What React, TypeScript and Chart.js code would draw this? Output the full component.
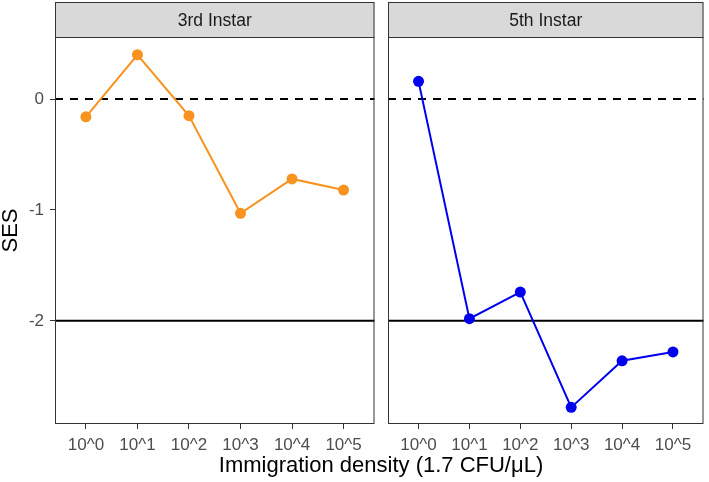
import React, { useEffect, useRef } from "react";
import { Chart, registerables } from "chart.js";
Chart.register(...registerables);

const xLabels = ["10^0", "10^1", "10^2", "10^3", "10^4", "10^5"];
const panelTitles = ["3rd Instar", "5th Instar"];
const ses3rd = [-0.16, 0.4, -0.15, -1.03, -0.72, -0.82];
const ses5th = [0.16, -1.98, -1.74, -2.78, -2.36, -2.28];
const yTicks = [-2, -1, 0];
const dashedRef = 0;
const solidRef = -2;
const yRange = [-2.93, 0.56];
const xRange = [-0.6, 5.6];
const colors = ["#F7931E", "#0000EE"];

const FONT = "'Liberation Sans', Arial, Helvetica, sans-serif";

const facetPlugin = {
  id: "facet",
  beforeDatasetsDraw(chart: any) {
    const { ctx, chartArea } = chart;
    const y = chart.scales.y;
    ctx.save();
    ctx.strokeStyle = "#000";
    ctx.lineWidth = 2;
    const yd = y.getPixelForValue(dashedRef);
    ctx.setLineDash([8, 7]);
    ctx.beginPath();
    ctx.moveTo(chartArea.left, yd);
    ctx.lineTo(chartArea.right, yd);
    ctx.stroke();
    ctx.setLineDash([]);
    const ys = y.getPixelForValue(solidRef);
    ctx.beginPath();
    ctx.moveTo(chartArea.left, ys);
    ctx.lineTo(chartArea.right, ys);
    ctx.stroke();
    ctx.restore();
  },
  afterDraw(chart: any, _a: any, opts: any) {
    const { ctx, chartArea } = chart;
    const { left, right, top, bottom } = chartArea;
    ctx.save();
    ctx.fillStyle = "#d9d9d9";
    ctx.fillRect(left, 2, right - left, top - 2);
    ctx.strokeStyle = "#333333";
    ctx.lineWidth = 1;
    ctx.strokeRect(left + 0.5, 2.5, right - left - 1, top - 2);
    ctx.fillStyle = "#1a1a1a";
    ctx.font = `17.5px ${FONT}`;
    ctx.textAlign = "center";
    ctx.textBaseline = "middle";
    ctx.fillText(opts.title, (left + right) / 2, (2 + top) / 2 + 1.5);
    ctx.strokeRect(left + 0.5, top + 0.5, right - left - 1, bottom - top - 1);
    ctx.restore();
  },
};

function Panel(props: {
  values: number[];
  color: string;
  title: string;
  showY: boolean;
  left: number;
  width: number;
  padLeft: number;
  padRight: number;
}) {
  const ref = useRef<HTMLCanvasElement>(null);
  useEffect(() => {
    const chart = new Chart(ref.current!, {
      type: "line",
      data: {
        datasets: [
          {
            data: props.values.map((v, i) => ({ x: i, y: v })),
            borderColor: props.color,
            backgroundColor: props.color,
            borderWidth: 2,
            pointRadius: 5.5,
            pointBorderWidth: 0,
            pointBackgroundColor: props.color,
            tension: 0,
          },
        ],
      },
      options: {
        animation: false,
        responsive: false,
        devicePixelRatio: 1,
        layout: { padding: { top: 37, left: props.padLeft, right: props.padRight, bottom: 0 } },
        plugins: {
          legend: { display: false },
          tooltip: { enabled: false },
          facet: { title: props.title },
        } as any,
        scales: {
          x: {
            type: "linear",
            min: xRange[0],
            max: xRange[1],
            afterBuildTicks: (s: any) => {
              s.ticks = xLabels.map((_, i) => ({ value: i }));
            },
            afterFit: (s: any) => {
              s.height = 58;
            },
            ticks: {
              autoSkip: false,
              maxRotation: 0,
              padding: 6,
              color: "#4d4d4d",
              font: { family: FONT, size: 17 },
              callback: (v: any) => xLabels[v as number] ?? "",
            },
            grid: { display: true, drawOnChartArea: false, drawTicks: true, tickLength: 5, color: "#333333", lineWidth: 1 },
            border: { display: false },
          },
          y: {
            type: "linear",
            display: props.showY,
            min: yRange[0],
            max: yRange[1],
            afterBuildTicks: (s: any) => {
              s.ticks = yTicks.map((v) => ({ value: v }));
            },
            afterFit: (s: any) => {
              s.width = props.showY ? 55 : 0;
            },
            ticks: {
              padding: 6,
              color: "#4d4d4d",
              font: { family: FONT, size: 17 },
              callback: (v: any) => String(v),
            },
            grid: { display: true, drawOnChartArea: false, drawTicks: true, tickLength: 5, color: "#333333", lineWidth: 1 },
            border: { display: false },
            title: {
              display: true,
              text: "SES",
              color: "#000",
              font: { family: FONT, size: 22, lineHeight: 1 },
              padding: 0,
            },
          },
        },
      },
      plugins: [facetPlugin],
    } as any);
    return () => chart.destroy();
  }, []);
  return (
    <canvas
      ref={ref}
      width={props.width}
      height={482}
      style={{ position: "absolute", left: props.left, top: 0, width: props.width, height: 482 }}
    />
  );
}

export default function App() {
  return (
    <div style={{ position: "absolute", left: 0, top: 0, width: 709, height: 482, background: "#fff", overflow: "hidden" }}>
      <Panel values={ses3rd} color={colors[0]} title={panelTitles[0]} showY={true} left={0} width={380} padLeft={0} padRight={5} />
      <Panel values={ses5th} color={colors[1]} title={panelTitles[1]} showY={false} left={380} width={329} padLeft={8} padRight={2} />
      <div
        style={{
          position: "absolute",
          left: 55,
          width: 652,
          top: 452,
          textAlign: "center",
          font: `22px ${FONT}`,
          lineHeight: "26px",
          color: "#000",
          whiteSpace: "nowrap",
        }}
      >
        Immigration density (1.7 CFU/μL)
      </div>
    </div>
  );
}
